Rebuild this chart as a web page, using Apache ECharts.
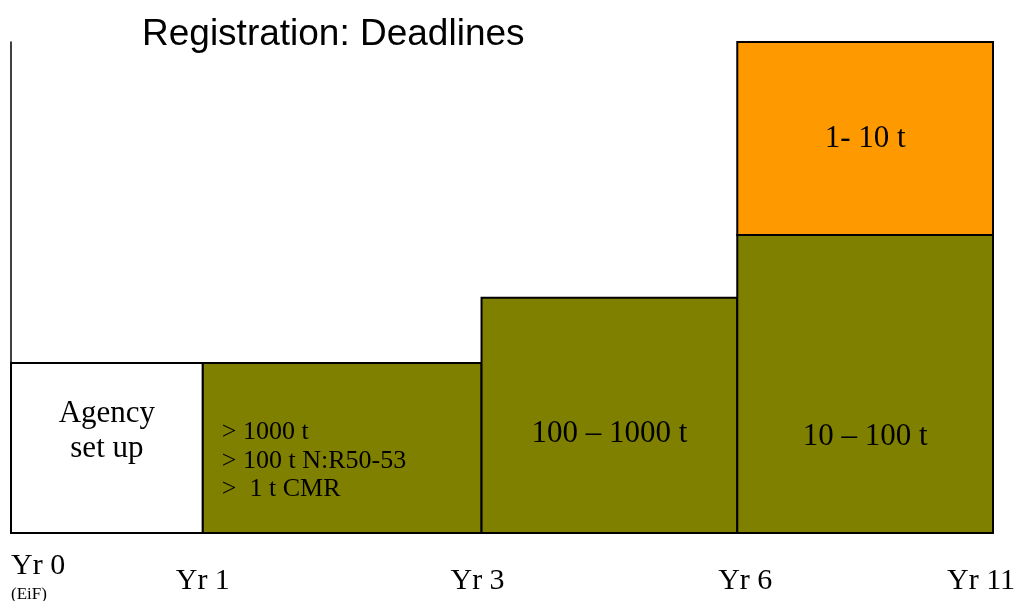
<!DOCTYPE html>
<html>
<head>
<meta charset="utf-8">
<script src="https://cdn.jsdelivr.net/npm/echarts@6/dist/echarts.min.js"></script>
<style>html,body{margin:0;padding:0;background:#fff}#c{width:1019px;height:601px}</style>
</head>
<body>
<div id="c"></div>
<script>
// ---- data ----
// segment edges along the time axis (relative widths as drawn)
const segmentEdges = [0, 0.75, 1.84, 2.84, 3.84];
const tickLabels = ['Yr 0', 'Yr 1', 'Yr 3', 'Yr 6', 'Yr 11'];
const tickSubLabels = ['(EiF)', '', '', '', ''];
// block heights (relative, 0-100)
const baseHeights = [34.6, 34.6, 47.9, 60.7];
const baseTexts = ['Agency\nset up', '> 1000 t\n> 100 t N:R50-53\n>  1 t CMR', '100 \u2013 1000 t', '10 \u2013 100 t'];
const topBlockSegment = 3;
const topBlockHeight = 100;
const topBlockText = '1- 10 t';

// ---- styles ----
const fills = ['#FFFFFF', '#808000', '#808000', '#808000'];
const topFill = '#FF9900';
const textLift = [102, 72, 99, 96];        // px above baseline for label centre
const textFont = [31, 26, 31, 31];
const textLineH = [35, 28.5, 35, 35];
const textAlign = ['center', 'left', 'center', 'center'];

const data = [];
for (let i = 0; i < baseHeights.length; i++) {
  data.push({ value: [segmentEdges[i], segmentEdges[i + 1], 0, baseHeights[i]], name: baseTexts[i],
    fill: fills[i], lift: textLift[i], fs: textFont[i], lh: textLineH[i], al: textAlign[i] });
}
data.push({ value: [segmentEdges[topBlockSegment], segmentEdges[topBlockSegment + 1], baseHeights[topBlockSegment], topBlockHeight],
  name: topBlockText, fill: topFill, lift: null, fs: 31, lh: 35, al: 'center' });

const chart = echarts.init(document.getElementById('c'), null, { renderer: 'canvas' });
const serif = 'Liberation Serif, Times New Roman, serif';

function renderItem(params, api) {
  const d = data[params.dataIndex];
  const p0 = api.coord([api.value(0), api.value(2)]);
  const p1 = api.coord([api.value(1), api.value(3)]);
  const x = p0[0], y = p1[1], w = p1[0] - p0[0], h = p0[1] - p1[1];
  const ty = d.lift == null ? y + h / 2 : p0[1] - d.lift;
  const tx = d.al === 'left' ? x + 19 : x + w / 2;
  return {
    type: 'group',
    children: [
      { type: 'rect', shape: { x: x, y: y, width: w, height: h },
        style: { fill: d.fill, stroke: '#000', lineWidth: 2 } },
      { type: 'text', x: tx, y: ty,
        style: { text: d.name, fill: '#000', font: d.fs + 'px ' + serif, lineHeight: d.lh,
          align: d.al, verticalAlign: 'middle' } }
    ]
  };
}

const richTick = ['yr0', 'yr', 'yrL', 'yrR', 'yrLL'];

chart.setOption({
  animation: false,
  backgroundColor: '#fff',
  title: {
    text: 'Registration: Deadlines', left: 137, top: 11,
    textStyle: { fontFamily: 'Liberation Sans, Arial, sans-serif', fontSize: 37, fontWeight: 'normal', color: '#000' }
  },
  grid: { left: 11, right: 26, top: 42, bottom: 68, outerBoundsMode: 'none', containLabel: false },
  xAxis: {
    type: 'value', min: segmentEdges[0], max: segmentEdges[segmentEdges.length - 1],
    axisLine: { show: false }, axisTick: { show: false }, splitLine: { show: false },
    axisLabel: {
      customValues: segmentEdges, margin: 16, alignMinLabel: 'left',
      formatter: function (v) {
        let k = 0, best = 1e9;
        segmentEdges.forEach((e, i) => { if (Math.abs(e - v) < best) { best = Math.abs(e - v); k = i; } });
        let s = '{' + richTick[k] + '|' + tickLabels[k] + '}';
        if (tickSubLabels[k]) s += '\n{sub|' + tickSubLabels[k] + '}';
        return s;
      },
      rich: {
        yr0: { fontFamily: serif, fontSize: 30, lineHeight: 34, color: '#000' },
        sub: { fontFamily: serif, fontSize: 17, lineHeight: 24, color: '#000' },
        yr: { fontFamily: serif, fontSize: 30, lineHeight: 34, color: '#000', padding: [30, 0, 0, 0] },
        yrL: { fontFamily: serif, fontSize: 30, lineHeight: 34, color: '#000', padding: [30, 8, 0, 0] },
        yrR: { fontFamily: serif, fontSize: 30, lineHeight: 34, color: '#000', padding: [30, 0, 0, 16] },
        yrLL: { fontFamily: serif, fontSize: 30, lineHeight: 34, color: '#000', padding: [30, 24, 0, 0] }
      }
    }
  },
  yAxis: {
    type: 'value', min: 0, max: 100,
    axisLine: { show: true, lineStyle: { color: '#000', width: 1.5 } },
    axisTick: { show: false }, axisLabel: { show: false }, splitLine: { show: false }
  },
  series: [{
    type: 'custom', renderItem: renderItem, clip: false,
    encode: { x: [0, 1], y: [2, 3] },
    data: data.map(d => d.value)
  }]
});
</script>
</body>
</html>
